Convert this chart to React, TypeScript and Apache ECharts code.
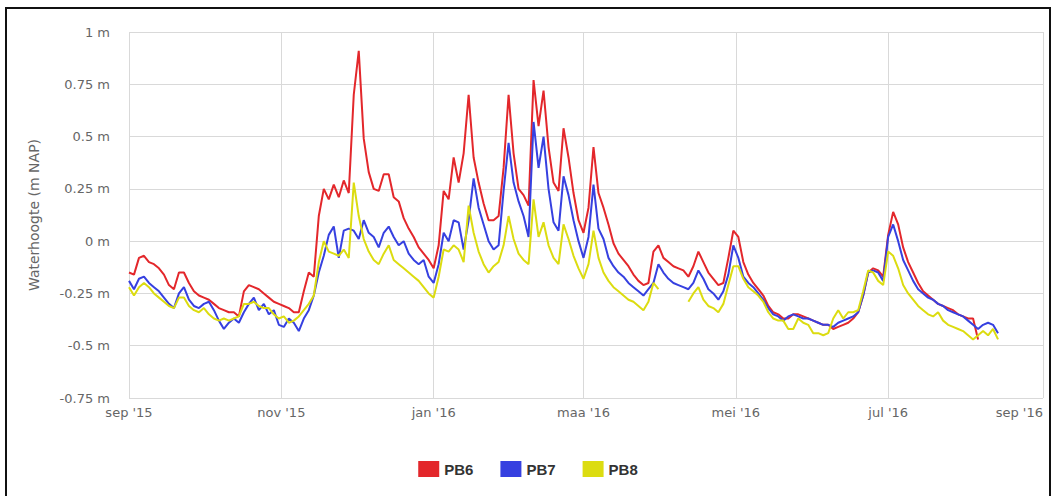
import { useEffect, useRef } from "react";
import * as echarts from "echarts";

const START_DATE = "2015-09-01";
const END_DATE = "2016-09-01";
const STEP_DAYS = 2;
const DAY_MS = 86400000;

const TICK_DATES = ["2015-09-01", "2015-11-01", "2016-01-01", "2016-03-01", "2016-05-01", "2016-07-01", "2016-09-01"];
const TICK_LABELS = ["sep '15", "nov '15", "jan '16", "maa '16", "mei '16", "jul '16", "sep '16"];

const SERIES_NAMES = ["PB6", "PB7", "PB8"];
const SERIES_COLORS = ["#e3272b", "#3640e0", "#dcdc10"];

// water level (m NAP), one value every 2 days from 1 sep 2015
const PB6 = [
  -0.15, -0.16, -0.08, -0.07, -0.10, -0.11, -0.13, -0.16, -0.21, -0.23,
  -0.15, -0.15, -0.20, -0.24, -0.26, -0.27, -0.28, -0.30, -0.32, -0.33,
  -0.34, -0.34, -0.36, -0.24, -0.21, -0.22, -0.23, -0.25, -0.27, -0.29,
  -0.30, -0.31, -0.32, -0.34, -0.34, -0.24, -0.15, -0.17, 0.12, 0.25,
  0.20, 0.27, 0.21, 0.29, 0.23, 0.70, 0.91, 0.49, 0.33, 0.25,
  0.24, 0.32, 0.32, 0.21, 0.19, 0.11, 0.06, 0.02, -0.03, -0.06,
  -0.09, -0.13, -0.02, 0.24, 0.20, 0.40, 0.28, 0.42, 0.70, 0.40,
  0.28, 0.18, 0.10, 0.10, 0.12, 0.35, 0.70, 0.42, 0.25, 0.22,
  0.17, 0.77, 0.55, 0.72, 0.45, 0.28, 0.24, 0.54, 0.40, 0.23,
  0.10, 0.04, 0.16, 0.45, 0.23, 0.16, 0.08, -0.01, -0.06, -0.09,
  -0.12, -0.16, -0.19, -0.21, -0.20, -0.05, -0.02, -0.08, -0.10, -0.12,
  -0.13, -0.14, -0.17, -0.12, -0.05, -0.10, -0.15, -0.18, -0.21, -0.20,
  -0.08, 0.05, 0.02, -0.10, -0.16, -0.20, -0.23, -0.26, -0.31, -0.34,
  -0.35, -0.37, -0.37, -0.35, -0.35, -0.36, -0.37, -0.38, -0.39, -0.40,
  -0.40, -0.42, -0.41, -0.40, -0.39, -0.37, -0.34, -0.26, -0.15, -0.13,
  -0.14, -0.17, 0.03, 0.14, 0.08, -0.03, -0.10, -0.15, -0.20, -0.24,
  -0.26, -0.28, -0.30, -0.31, -0.32, -0.33, -0.35, -0.36, -0.37, -0.37,
  -0.47, null, null, null, null,
];

const PB7 = [
  -0.19, -0.23, -0.18, -0.17, -0.20, -0.22, -0.24, -0.27, -0.30, -0.32,
  -0.25, -0.22, -0.28, -0.31, -0.32, -0.30, -0.29, -0.33, -0.38, -0.42,
  -0.39, -0.37, -0.39, -0.34, -0.30, -0.27, -0.33, -0.30, -0.35, -0.33,
  -0.40, -0.41, -0.37, -0.39, -0.43, -0.37, -0.33, -0.26, -0.15, -0.07,
  0.03, 0.07, -0.08, 0.05, 0.06, 0.05, 0.01, 0.10, 0.04, 0.02,
  -0.03, 0.04, 0.07, 0.02, -0.02, 0.00, -0.06, -0.09, -0.11, -0.09,
  -0.17, -0.20, -0.11, 0.04, 0.00, 0.10, 0.09, -0.04, 0.10, 0.30,
  0.16, 0.08, 0.00, -0.04, -0.02, 0.24, 0.47, 0.28, 0.19, 0.12,
  0.02, 0.57, 0.35, 0.50, 0.25, 0.09, 0.05, 0.31, 0.22, 0.10,
  0.00, -0.08, 0.02, 0.27, 0.06, 0.01, -0.08, -0.12, -0.15, -0.17,
  -0.20, -0.22, -0.24, -0.26, -0.23, -0.20, -0.11, -0.15, -0.18, -0.20,
  -0.21, -0.22, -0.23, -0.20, -0.14, -0.18, -0.23, -0.25, -0.28, -0.24,
  -0.16, -0.02, -0.08, -0.17, -0.20, -0.22, -0.25, -0.28, -0.32, -0.35,
  -0.36, -0.38, -0.36, -0.35, -0.36, -0.37, -0.37, -0.38, -0.39, -0.40,
  -0.40, -0.41, -0.39, -0.38, -0.37, -0.36, -0.34, -0.26, -0.15, -0.14,
  -0.15, -0.19, 0.02, 0.08, 0.00, -0.09, -0.14, -0.19, -0.23, -0.25,
  -0.27, -0.28, -0.30, -0.31, -0.33, -0.34, -0.35, -0.36, -0.38, -0.40,
  -0.42, -0.40, -0.39, -0.40, -0.44,
];

const PB8 = [
  -0.22, -0.26, -0.22, -0.20, -0.22, -0.25, -0.27, -0.29, -0.31, -0.32,
  -0.27, -0.27, -0.31, -0.33, -0.34, -0.32, -0.35, -0.37, -0.38, -0.37,
  -0.38, -0.37, -0.36, -0.30, -0.30, -0.29, -0.31, -0.32, -0.32, -0.35,
  -0.37, -0.36, -0.39, -0.38, -0.36, -0.33, -0.30, -0.26, -0.10, 0.00,
  -0.05, -0.06, -0.07, -0.04, -0.08, 0.28, 0.12, 0.01, -0.05, -0.09,
  -0.11, -0.06, -0.02, -0.09, -0.11, -0.13, -0.15, -0.17, -0.19, -0.22,
  -0.25, -0.27, -0.17, -0.04, -0.05, -0.02, -0.04, -0.10, 0.17, 0.04,
  -0.05, -0.11, -0.15, -0.12, -0.10, -0.02, 0.12, 0.01, -0.06, -0.09,
  -0.11, 0.20, 0.02, 0.09, -0.02, -0.08, -0.11, 0.08, 0.01, -0.07,
  -0.13, -0.18, -0.11, 0.05, -0.08, -0.15, -0.19, -0.22, -0.24, -0.26,
  -0.28, -0.29, -0.31, -0.33, -0.29, -0.20, -0.23, null, null, null,
  null, null, -0.29, -0.25, -0.22, -0.28, -0.31, -0.32, -0.34, -0.30,
  -0.21, -0.12, -0.12, -0.18, -0.22, -0.24, -0.26, -0.29, -0.34, -0.37,
  -0.38, -0.38, -0.42, -0.42, -0.37, -0.39, -0.40, -0.44, -0.44, -0.45,
  -0.44, -0.37, -0.33, -0.37, -0.34, -0.34, -0.33, -0.24, -0.14, -0.15,
  -0.19, -0.21, -0.05, -0.07, -0.13, -0.21, -0.25, -0.28, -0.31, -0.33,
  -0.35, -0.36, -0.34, -0.38, -0.40, -0.41, -0.42, -0.43, -0.45, -0.47,
  -0.45, -0.43, -0.45, -0.42, -0.47,
];

const SERIES_VALUES = [PB6, PB7, PB8];

const Y_MIN = -0.75;
const Y_MAX = 1;
const Y_STEP = 0.25;

const GRID_COLOR = "#d9d9d9";
const LABEL_COLOR = "#666666";

export default function App() {
  const ref = useRef<HTMLDivElement>(null);

  useEffect(() => {
    if (!ref.current) return;
    const chart = echarts.init(ref.current, undefined, { renderer: "svg" });
    const start = Date.parse(START_DATE);
    const end = Date.parse(END_DATE);
    const ticks = TICK_DATES.map((d) => Date.parse(d));
    const labelFor = (v: number) => {
      let best = 0;
      for (let i = 1; i < ticks.length; i++) {
        if (Math.abs(ticks[i] - v) < Math.abs(ticks[best] - v)) best = i;
      }
      return TICK_LABELS[best];
    };

    chart.setOption({
      animation: false,
      grid: { left: 129, top: 32, width: 914, height: 366 },
      legend: {
        data: SERIES_NAMES,
        top: 456,
        left: "center",
        icon: "rect",
        itemWidth: 21,
        itemHeight: 16,
        itemGap: 27,
        textStyle: {
          fontFamily: "Liberation Sans",
          fontWeight: "bold",
          fontSize: 15,
          color: "#333333",
        },
      },
      xAxis: {
        type: "value",
        min: start,
        max: end,
        axisLine: { show: false },
        axisTick: {
          show: true,
          customValues: ticks,
          length: 5,
          lineStyle: { color: GRID_COLOR },
        },
        axisLabel: {
          customValues: ticks,
          formatter: (v: number) => labelFor(v),
          color: LABEL_COLOR,
          fontFamily: "DejaVu Sans",
          fontSize: 13,
          margin: 8,
          alignMaxLabel: "right",
        },
        splitLine: { show: true, lineStyle: { color: GRID_COLOR, width: 1 } },
      },
      yAxis: {
        type: "value",
        min: Y_MIN,
        max: Y_MAX,
        interval: Y_STEP,
        name: "Waterhoogte (m NAP)",
        nameLocation: "middle",
        nameGap: 88,
        nameTextStyle: {
          color: LABEL_COLOR,
          fontFamily: "DejaVu Sans",
          fontSize: 14,
        },
        axisLine: { show: false },
        axisTick: { show: false },
        axisLabel: {
          formatter: (v: number) => `${v} m`,
          color: LABEL_COLOR,
          fontFamily: "DejaVu Sans",
          fontSize: 13,
          margin: 19,
        },
        splitLine: { show: true, lineStyle: { color: GRID_COLOR, width: 1 } },
      },
      series: SERIES_NAMES.map((name, k) => ({
        name,
        type: "line",
        data: SERIES_VALUES[k].map((v, i) => [start + i * STEP_DAYS * DAY_MS, v]),
        showSymbol: false,
        symbol: "none",
        connectNulls: false,
        color: SERIES_COLORS[k],
        lineStyle: { color: SERIES_COLORS[k], width: 2 },
        emphasis: { disabled: true },
      })),
    });

    return () => chart.dispose();
  }, []);

  return (
    <>
      <div
        style={{
          position: "absolute",
          left: 5,
          top: 7,
          width: 1046,
          height: 520,
          border: "2px solid #111",
          boxSizing: "border-box",
        }}
      />
      <div
        ref={ref}
        style={{ position: "absolute", left: 0, top: 0, width: 1056, height: 496 }}
      />
    </>
  );
}
